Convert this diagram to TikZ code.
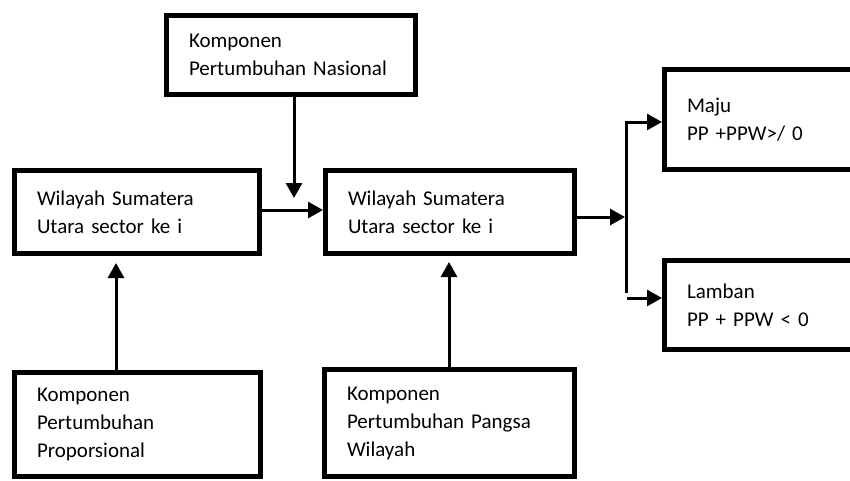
\documentclass[tikz,border=0pt]{standalone}
\usepackage{fontspec}
\setmainfont{Carlito}
\usetikzlibrary{calc}
\usetikzlibrary{arrows.meta}

\tikzset{
  kotak/.style={draw, line width=5pt, align=left, inner xsep=22.5pt, inner ysep=0pt,
    font=\fontsize{21}{28}\selectfont},
  panah/.style={line width=3pt, -{Triangle[length=15pt,width=16pt]}},
}

\begin{document}
\begin{tikzpicture} [x=1pt, y=-1pt]
\useasboundingbox (0,0) rectangle (850,480);
\clip (0,0) rectangle (850,480);

\node[kotak, minimum width=249pt, minimum height=79pt, text width=204pt] (nasional) at (291,55) {Komponen\\Pertumbuhan Nasional};
\node[kotak, minimum width=245pt, minimum height=83pt, text width=200pt] (wilayahA) at (137,212) {Wilayah Sumatera\\Utara sector ke i};
\node[kotak, minimum width=249pt, minimum height=83pt, text width=204pt] (wilayahB) at (450,212) {Wilayah Sumatera\\Utara sector ke i};
\node[kotak, minimum width=300pt, minimum height=100pt, text width=255pt] (maju) at (814.5,119.5) {Maju\\PP +PPW>/ 0};
\node[kotak, minimum width=300pt, minimum height=89pt, text width=255pt] (lamban) at (814.5,305) {Lamban\\PP + PPW < 0};
\node[kotak, minimum width=246pt, minimum height=104pt, text width=201pt] (proporsional) at (137.5,424.5) {Komponen\\Pertumbuhan\\Proporsional};
\node[kotak, minimum width=250pt, minimum height=107pt, text width=205pt] (pangsa) at (449.5,423) {Komponen\\Pertumbuhan Pangsa\\Wilayah};

\coordinate (tipNas) at (294,198);
\coordinate (tipProp) at (116,263);
\coordinate (tipPangsa) at (449,262);
\coordinate (fork) at (625,217);
\coordinate (forkTop) at (626,122);
\coordinate (forkBot) at (626,293);
\coordinate (forkLow) at (627,298);

\draw[panah] (nasional.south -| tipNas) -- (tipNas);
\draw[panah] ([yshift=2pt]wilayahA.east) -- ([yshift=2pt]wilayahB.west);
\draw[panah] (proporsional.north -| tipProp) -- (tipProp);
\draw[panah] (pangsa.north -| tipPangsa) -- (tipPangsa);
\draw[panah] (wilayahB.east |- fork) -- (fork);
\draw[line width=3pt] ([yshift=1.5pt]forkTop) -- (forkBot);
\draw[panah] (forkTop) -- (maju.west |- forkTop);
\draw[panah] (forkLow) -- (lamban.west |- forkLow);

\end{tikzpicture}
\end{document}
